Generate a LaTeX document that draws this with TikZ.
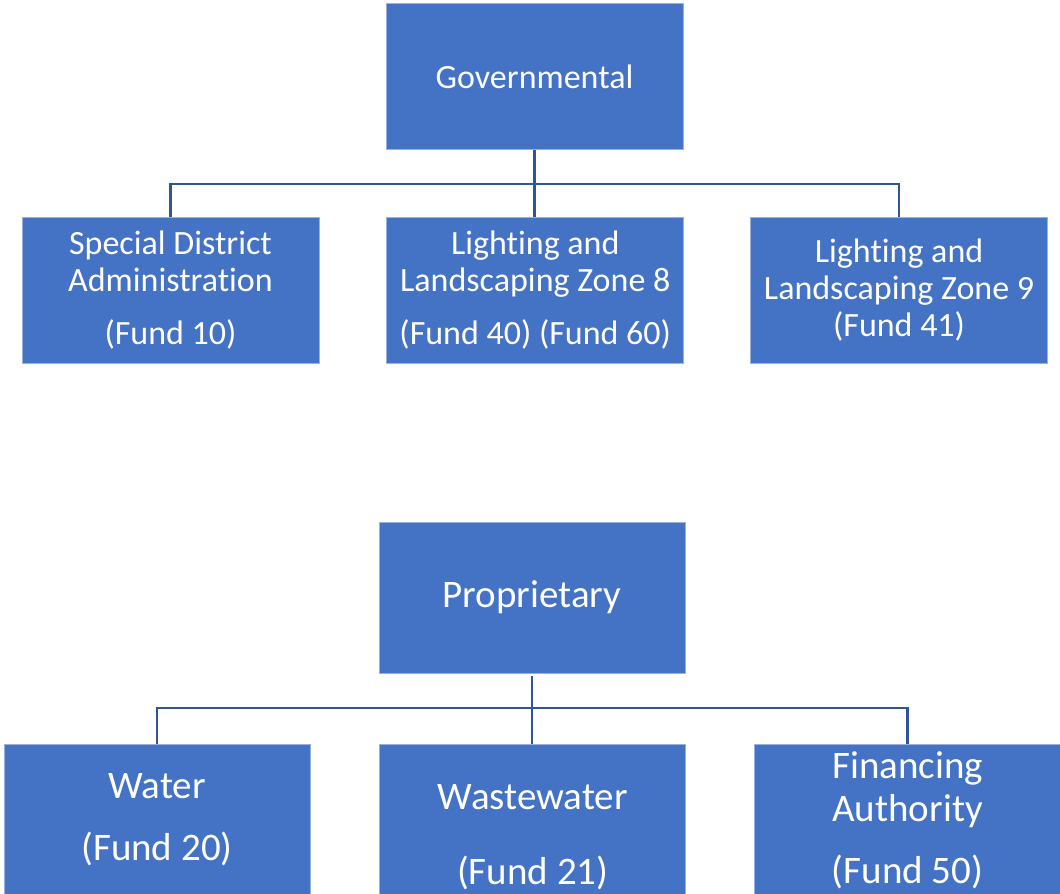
\documentclass[tikz,border=0pt]{standalone}
\usepackage{fontspec}
\setmainfont[Ligatures=NoCommon]{Carlito}
\usetikzlibrary{positioning}

\definecolor{boxblue}{HTML}{4472C4}
\definecolor{linkblue}{HTML}{2F5597}

\tikzset{
  unitbox/.style={rectangle, fill=boxblue, draw=boxblue!55!white, line width=0.8pt,
    text=white, align=center, minimum width=297pt, minimum height=146pt, inner sep=0pt},
  topfont/.style={font=\fontsize{34}{37}\selectfont},
  lowfont/.style={font=\fontsize{39}{43}\selectfont, minimum width=306pt, minimum height=151pt},
  link/.style={draw=linkblue, line width=2.5pt}
}

\begin{document}
\begin{tikzpicture}[x=1pt,y=-1pt]
 \useasboundingbox (0,0) rectangle (1060,894);
 \clip (0,0) rectangle (1060,894);
 % governmental funds
 \node[unitbox, topfont] (gov) at (534.5,76.5) {Governmental};
 \node[unitbox, topfont] (sda) at (170.5,290) {Special District\\Administration\\[16pt](Fund 10)};
 \node[unitbox, topfont, right=67pt of sda] (llz8) {Lighting and\\Landscaping Zone 8\\[16pt](Fund 40) (Fund 60)};
 \node[unitbox, topfont, right=66pt of llz8] (llz9) {Lighting and\\Landscaping Zone 9\\(Fund 41)};
 \coordinate (govbus) at (534,184);
 \draw[link] (gov.south) -- (gov.south |- llz8.north);
 \draw[link] (sda.north) |- (govbus) -| (llz9.north);
 % proprietary funds
 \node[unitbox, lowfont] (prop) at (532,597.5) {Proprietary};
 \node[unitbox, lowfont] (water) at (157,820) {Water\\[19pt](Fund 20)};
 \node[unitbox, lowfont, right=69pt of water] (waste) {};
 \node[text=white, align=center, lowfont, minimum width=0pt, minimum height=0pt]
   (wastetxt) at ([yshift=-17pt]waste.center) {Wastewater\\[32pt](Fund 21)};
 \node[unitbox, lowfont, right=68pt of waste] (fin) {Financing\\Authority\\[19pt](Fund 50)};
 \coordinate (propbus) at (533,708);
 \draw[link] ([yshift=-3pt]prop.south) -- (prop.south |- waste.north);
 \draw[link] (water.north) |- (propbus) -| (fin.north);
\end{tikzpicture}
\end{document}
